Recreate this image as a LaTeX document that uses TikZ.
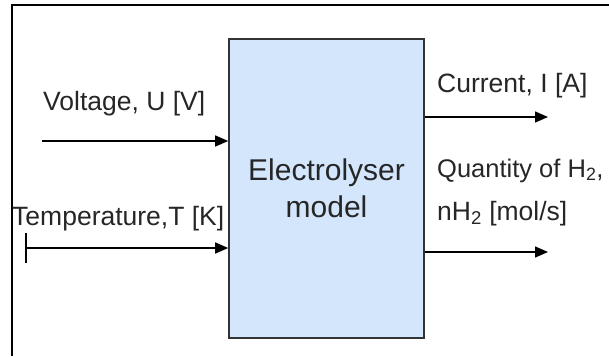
\documentclass[tikz,border=0pt]{standalone}
\usepackage{fontspec}
\setmainfont{Liberation Sans}
\usepackage{xcolor}
\usetikzlibrary{arrows.meta, positioning, calc}

\definecolor{modelblue}{HTML}{D4E6FC}
\definecolor{labelgray}{HTML}{262626}

\begin{document}
\begin{tikzpicture}[x=1pt, y=-1pt, >={Triangle[length=13pt,width=11pt]},
    flow/.style={draw, line width=1.4pt, ->},
    lbl/.style={anchor=base west, inner sep=0pt, text=labelgray, font=\fontsize{26.5}{31}\selectfont}]
    \useasboundingbox (0,0) rectangle (609,356);
    % Outer frame (cut off at right and bottom)
    \draw[line width=2.2pt] (12,356) |- (609,5);

    % Model block
    \node (model) [draw=black!80, line width=1.6pt, fill=modelblue, minimum width=195pt, minimum height=299pt, align=center, text=labelgray,
        font=\fontsize{30}{37}\selectfont] at (326.5,188.5) {Electrolyser\\model};

    % Inputs
    \coordinate (voltage_in) at (42,141);
    \coordinate (temp_in) at (25,248);
    \draw[flow] (voltage_in) -- (voltage_in -| model.west);
    \draw[flow, {Bar[width=30pt,line width=1.8pt]}-{Triangle[length=13pt,width=11pt]}] (temp_in) -- (temp_in -| model.west);
    \node (voltage_lbl) [lbl] at (43,110) {Voltage, U [V]};
    \node (temp_lbl) [lbl] at (12,225) {Temperature,T [K]};

    % Outputs
    \coordinate (current_out) at (548,117);
    \coordinate (hydrogen_out) at (548,252);
    \draw[flow] (current_out -| model.east) -- (current_out);
    \draw[flow] (hydrogen_out -| model.east) -- (hydrogen_out);
    \node (current_lbl) [lbl] at (437,92) {Current, I [A]};
    \node (hydrogen_lbl) [lbl, font=\fontsize{25.5}{31}\selectfont] at (437,177) {Quantity of H\textsubscript{2},};
    \node (flow_lbl) [lbl] at (437,220) {nH\textsubscript{2} [mol/s]};
\end{tikzpicture}
\end{document}
